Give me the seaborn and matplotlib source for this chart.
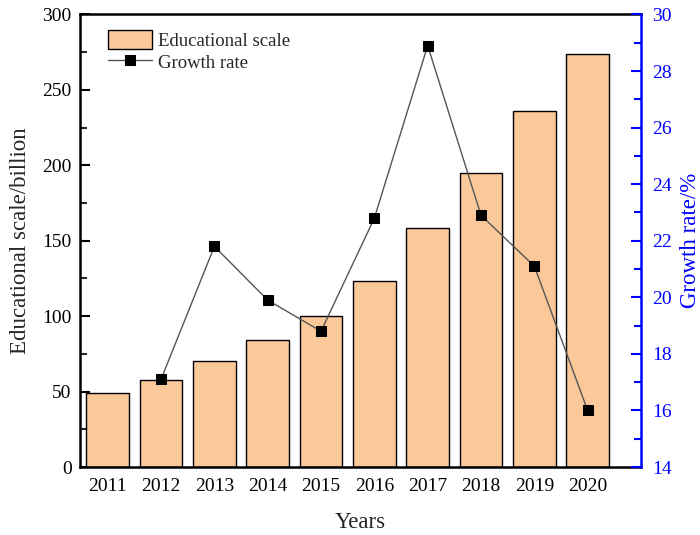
import matplotlib
matplotlib.use("Agg")
import matplotlib.pyplot as plt
from matplotlib.ticker import MultipleLocator
import seaborn as sns
import pandas as pd
import numpy as np

years = [2011, 2012, 2013, 2014, 2015, 2016, 2017, 2018, 2019, 2020]
edu_scale = [49.2, 57.6, 70.3, 84.4, 100.2, 123.0, 158.5, 194.8, 235.8, 273.7]
growth_rate = [np.nan, 17.1, 21.8, 19.9, 18.8, 22.8, 28.9, 22.9, 21.1, 16.0]

df = pd.DataFrame({"Years": years, "Scale": edu_scale, "Growth": growth_rate})

sns.set_style("ticks")
plt.rcParams["font.family"] = ["Liberation Serif", "DejaVu Serif"]

fig = plt.figure(figsize=(7.0, 5.35), dpi=100)
ax = fig.add_axes([0.1143, 0.1271, 0.8014, 0.8458])

bar_color = "#FBC899"
sns.barplot(data=df, x="Years", y="Scale", native_scale=True, width=0.8,
            color=bar_color, edgecolor="black", linewidth=1.0,
            saturation=1, ax=ax, label="Educational scale")

ax2 = ax.twinx()
sns.lineplot(data=df.dropna(), x="Years", y="Growth", ax=ax2,
             color="#555555", linewidth=1.0, marker="s", markersize=6.5,
             markerfacecolor="black", markeredgecolor="black",
             label="Growth rate", legend=False)

ax.set_xlim(2010.48, 2021.0)
ax.set_ylim(0, 300)
ax2.set_ylim(14, 30)
ax.set_xticks(years)
ax.set_xticklabels([str(y) for y in years])
ax.yaxis.set_major_locator(MultipleLocator(50))
ax.yaxis.set_minor_locator(MultipleLocator(25))
ax2.yaxis.set_major_locator(MultipleLocator(2))
ax2.yaxis.set_minor_locator(MultipleLocator(1))

ax.set_xlabel("Years", fontsize=16.5, labelpad=12)
ax.set_ylabel("Educational scale/billion", fontsize=16.5, labelpad=8)
ax2.set_ylabel("Growth rate/%", fontsize=16.5, color="blue", labelpad=6)

ax.tick_params(axis="both", which="major", direction="in", length=7, width=1.5,
               labelsize=14, colors="black", pad=6)
ax.tick_params(axis="x", which="major", pad=8)
ax.tick_params(axis="y", which="minor", direction="in", length=5, width=1.5)
ax.tick_params(axis="x", which="minor", length=0)
ax2.tick_params(axis="y", which="major", direction="in", length=7, width=1.5,
                labelsize=14, colors="blue", pad=8)
ax2.tick_params(axis="y", which="minor", direction="in", length=5, width=1.5,
                colors="blue")

for sp in ["left", "bottom", "top"]:
    ax.spines[sp].set_linewidth(1.8)
    ax.spines[sp].set_color("black")
ax.spines["right"].set_visible(False)
for sp in ["left", "bottom", "top"]:
    ax2.spines[sp].set_visible(False)
ax2.spines["right"].set_color("blue")
ax2.spines["right"].set_linewidth(1.8)

h1, l1 = ax.get_legend_handles_labels()
h2, l2 = ax2.get_legend_handles_labels()
ax.legend(h1 + h2, l1 + l2, loc="upper left", bbox_to_anchor=(0.027, 0.995),
          frameon=False, fontsize=13.5, handlelength=2.35, handleheight=1.17,
          handletextpad=0.3, labelspacing=0.15, borderaxespad=0.3)

fig.savefig("out.png", dpi=100)
